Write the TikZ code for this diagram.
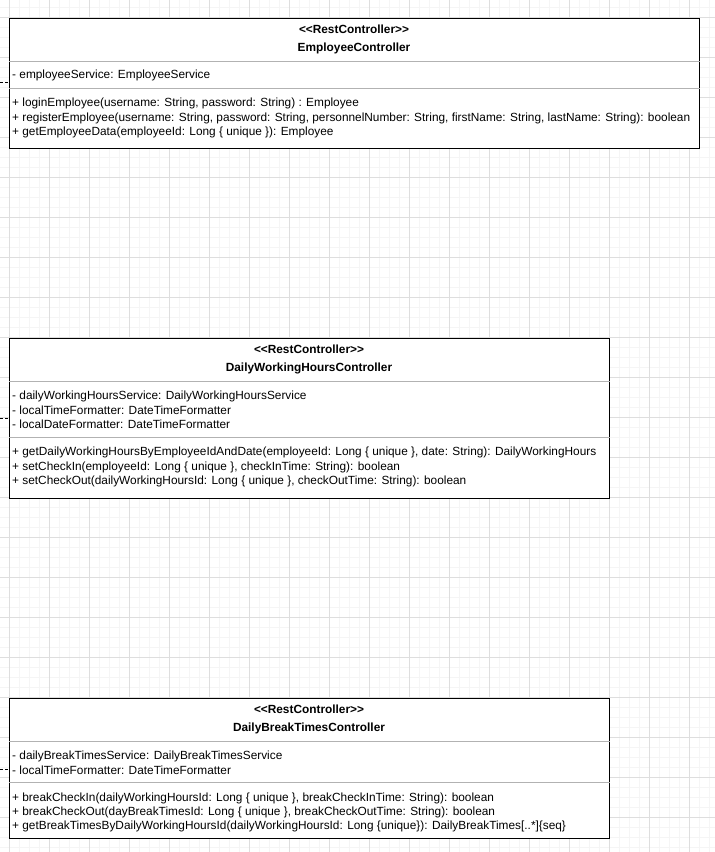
\documentclass[tikz,border=0pt]{standalone}
\usepackage{fontspec}
\setmainfont{Liberation Sans}
\begin{document}
\begin{tikzpicture}[x=1pt,y=-1pt,
  minorgrid/.style={draw=black!4,line width=1pt},
  majorgrid/.style={draw=black!13,line width=1pt},
  classbox/.style={draw=black,line width=1.2pt,fill=white,rectangle,inner sep=0pt,anchor=north west},
  divider/.style={draw=black!30,line width=1.3pt},
  member/.style={font=\fontsize{11.85}{14}\selectfont,anchor=base west,inner sep=0pt},
  title/.style={font=\fontsize{11.85}{14}\selectfont\bfseries,anchor=base,inner sep=0pt},
  depline/.style={draw=black,line width=0.8pt,dash pattern=on 3pt off 2pt}]
\useasboundingbox (0,0) rectangle (715,852);
\fill[white] (0,0) rectangle (715,852);
% background grid
\foreach \gx in {-1,9,...,715} \draw[minorgrid] (\gx,0) -- (\gx,852);
\foreach \gy in {7,17,...,852} \draw[minorgrid] (0,\gy) -- (715,\gy);
\foreach \gx in {9,49,...,715} \draw[majorgrid] (\gx,0) -- (\gx,852);
\foreach \gy in {17,57,...,852} \draw[majorgrid] (0,\gy) -- (715,\gy);

% EmployeeController
\node[classbox,minimum width=690pt,minimum height=130pt] (emp) at (9,18) {};
\draw[divider] (emp.west |- 0,61.3) -- (emp.east |- 0,61.3);
\draw[divider] (emp.west |- 0,88.7) -- (emp.east |- 0,88.7);
\node[title] (empst) at (354,33.5) {<\kern0pt<RestController>\kern0pt>};
\node[title] (empnm) at (354,51) {EmployeeController};
\node[member] (empa1) at (12,78.5) {- employeeService: EmployeeService};
\node[member] (empm1) at (12,106.5) {+ loginEmployee(username: String, password: String) : Employee};
\node[member] (empm2) at (12,121) {+ registerEmployee(username: String, password: String, personnelNumber: String, firstName: String, lastName: String): boolean};
\node[member] (empm3) at (12,135) {+ getEmployeeData(employeeId: Long \{ unique \}): Employee};

% DailyWorkingHoursController
\node[classbox,minimum width=600pt,minimum height=160pt] (dwh) at (9,338) {};
\draw[divider] (dwh.west |- 0,381.3) -- (dwh.east |- 0,381.3);
\draw[divider] (dwh.west |- 0,437.3) -- (dwh.east |- 0,437.3);
\node[title] (dwhst) at (309,353.5) {<\kern0pt<RestController>\kern0pt>};
\node[title] (dwhnm) at (309,371) {DailyWorkingHoursController};
\node[member] (dwha1) at (12,399) {- dailyWorkingHoursService: DailyWorkingHoursService};
\node[member] (dwha2) at (12,414) {- localTimeFormatter: DateTimeFormatter};
\node[member] (dwha3) at (12,428) {- localDateFormatter: DateTimeFormatter};
\node[member] (dwhm1) at (12,455) {+ getDailyWorkingHoursByEmployeeIdAndDate(employeeId: Long \{ unique \}, date: String): DailyWorkingHours};
\node[member] (dwhm2) at (12,470) {+ setCheckIn(employeeId: Long \{ unique \}, checkInTime: String): boolean};
\node[member] (dwhm3) at (12,484) {+ setCheckOut(dailyWorkingHoursId: Long \{ unique \}, checkOutTime: String): boolean};

% DailyBreakTimesController
\node[classbox,minimum width=600pt,minimum height=140pt] (dbt) at (9,698) {};
\draw[divider] (dbt.west |- 0,741.3) -- (dbt.east |- 0,741.3);
\draw[divider] (dbt.west |- 0,782.7) -- (dbt.east |- 0,782.7);
\node[title] (dbtst) at (309,713.5) {<\kern0pt<RestController>\kern0pt>};
\node[title] (dbtnm) at (309,731) {DailyBreakTimesController};
\node[member] (dbta1) at (12,759) {- dailyBreakTimesService: DailyBreakTimesService};
\node[member] (dbta2) at (12,774) {- localTimeFormatter: DateTimeFormatter};
\node[member] (dbtm1) at (12,801) {+ breakCheckIn(dailyWorkingHoursId: Long \{ unique \}, breakCheckInTime: String): boolean};
\node[member] (dbtm2) at (12,815) {+ breakCheckOut(dayBreakTimesId: Long \{ unique \}, breakCheckOutTime: String): boolean};
\node[member] (dbtm3) at (12,829) {+ getBreakTimesByDailyWorkingHoursId(dailyWorkingHoursId: Long \{unique\}): DailyBreakTimes[..*]\{seq\}};

% dependency lines entering from the left
\coordinate (empin) at (0,82.7);
\coordinate (dwhin) at (0,418.3);
\coordinate (dbtin) at (0,769);
\draw[depline] (empin) -- (empin -| emp.west);
\draw[depline] (dwhin) -- (dwhin -| dwh.west);
\draw[depline] (dbtin) -- (dbtin -| dbt.west);
\end{tikzpicture}
\end{document}
